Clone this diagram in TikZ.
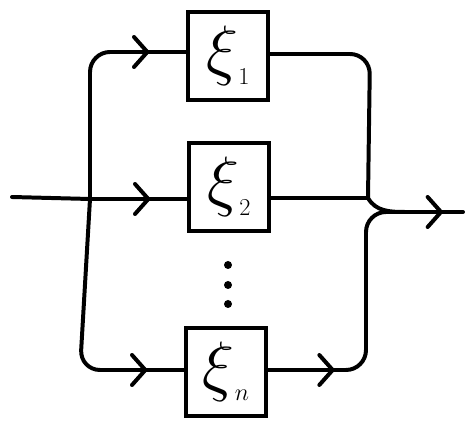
\documentclass[tikz,border=0pt]{standalone}
\usepackage{graphicx}
\usepackage{amsmath}
\usetikzlibrary{decorations.markings, arrows.meta, calc}

\tikzset{
  wire/.style={line width=3.4pt, line cap=round, line join=round},
  chan/.style={draw, line width=3.4pt, fill=white, minimum width=2.4cm,
    minimum height=2.65cm, inner sep=0pt, font=\Huge},
  arrowat/.style={postaction={decorate,decoration={markings,
    mark=at position #1 with {\arrow{Straight Barb[length=4mm,width=9mm,line width=3.4pt,round]}}}}}
}
\newcommand{\chanlabel}[1]{\scalebox{2.3}{$\xi$}\raisebox{-10pt}{\huge$#1$}}

\begin{document}
\begin{tikzpicture}[x=0.03cm,y=-0.03cm]
\useasboundingbox (0,0) rectangle (467,433);

\coordinate (in) at (12,197);
\coordinate (split) at (90,199);
\coordinate (lt) at (90,52);
\coordinate (lb) at (80,370);
\coordinate (rt) at (370,54);
\coordinate (join) at (368,198);
\coordinate (rb) at (366,370);
\coordinate (bend) at (405,212);
\coordinate (out) at (463,212);

% the parallel channels
\node[chan] (ch1) at (228,56) {\chanlabel{1}};
\node[chan] (ch2) at (229,187) {\chanlabel{2}};
\node[chan] (chn) at (226,372) {\chanlabel{n}};

\foreach \y in {265,285,304}
  \fill (228,\y) circle (0.12cm);

% input side
\draw[wire] (in) -- (split);
\draw[wire,arrowat=-1.1cm,rounded corners=0.6cm] (split) -- (lt) -- (lt -| ch1.west);
\draw[wire,arrowat=-1.1cm] (split) -- (split -| ch2.west);
\draw[wire,arrowat=-1.1cm,rounded corners=0.6cm] (split) -- (lb) -- (lb -| chn.west);

% output side
\draw[wire,rounded corners=0.6cm] (rt -| ch1.east) -- (rt) -- (join);
\draw[wire] (join -| ch2.east) -- (join);
\draw[wire,arrowat=2cm,rounded corners=0.6cm] (rb -| chn.east) -- (rb) -- (rb |- bend) -- (bend);
\draw[wire,arrowat=-0.6cm] (join) to[out=-60,in=180] (bend) -- (out);

\end{tikzpicture}
\end{document}
